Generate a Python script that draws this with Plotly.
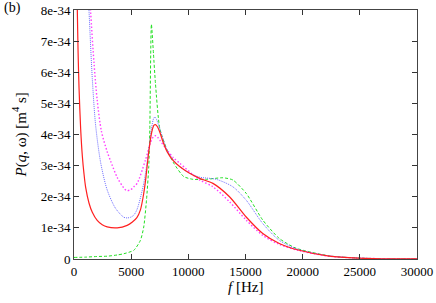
import numpy as np
import plotly.graph_objects as go

# frequencies [Hz] and values [1e-34 m^4 s]
f_red = [250, 290, 360, 440, 580, 730, 870, 1020, 1310, 1600, 2030, 2470, 2900, 3780, 4650, 5080, 5500, 5810, 6050, 6250, 6540, 6800, 7000, 7120, 7300, 7500, 7800, 8140, 8700, 9240, 10000, 10990, 12150, 13600, 15060, 16510, 17960, 19700, 22320, 24940, 27000, 30000]
v_red = [9.3, 8.0, 6.6, 5.5, 4.2, 3.3, 2.75, 2.3, 1.8, 1.5, 1.24, 1.1, 1.03, 1.0, 1.08, 1.18, 1.33, 1.58, 2.0, 2.5, 3.45, 4.08, 4.3, 4.32, 4.25, 4.08, 3.75, 3.45, 3.15, 2.97, 2.78, 2.59, 2.43, 2.0, 1.35, 0.82, 0.5, 0.28, 0.09, 0.025, 0.008, 0.002]

f_blue = [1100, 1310, 1600, 1890, 2330, 2900, 3630, 4360, 4650, 4940, 5230, 5520, 6100, 6540, 6800, 6950, 7060, 7200, 7400, 7800, 8140, 8700, 9240, 10000, 10990, 12440, 13890, 15060, 16510, 17960, 19700, 22320, 24940, 27000, 30000]
v_blue = [9.8, 8.0, 5.8, 4.3, 3.1, 2.22, 1.63, 1.34, 1.32, 1.34, 1.41, 1.6, 2.43, 3.5, 4.25, 4.5, 4.56, 4.5, 4.3, 3.85, 3.5, 3.18, 2.97, 2.78, 2.63, 2.56, 2.32, 1.89, 1.14, 0.6, 0.3, 0.1, 0.028, 0.008, 0.002]

f_mag = [1200, 1450, 1750, 2030, 2400, 2900, 3200, 3780, 4360, 4590, 4940, 5230, 5520, 6250, 6700, 6950, 7120, 7300, 7500, 8140, 8700, 9240, 10990, 12150, 13600, 15060, 16510, 17960, 19700, 22320, 24940, 27000, 30000]
v_mag = [10.5, 8.0, 6.3, 5.1, 4.1, 3.45, 3.15, 2.62, 2.28, 2.2, 2.22, 2.32, 2.43, 3.18, 3.75, 3.93, 3.96, 3.92, 3.82, 3.5, 3.25, 3.08, 2.54, 2.32, 1.84, 1.25, 0.76, 0.47, 0.27, 0.09, 0.03, 0.009, 0.002]

f_green = [0, 1000, 2000, 2900, 3800, 4360, 5230, 5810, 6100, 6340, 6540, 6630, 6770, 6950, 7120, 7500, 8140, 8720, 9590, 10400, 11570, 13020, 13890, 15060, 16510, 17960, 19400, 22320, 24940, 27000, 30000]
v_green = [0.05, 0.06, 0.08, 0.09, 0.13, 0.17, 0.28, 0.6, 1.03, 1.89, 2.97, 4.15, 7.54, 6.6, 5.66, 4.2, 3.5, 3.08, 2.65, 2.56, 2.56, 2.61, 2.54, 2.11, 1.25, 0.66, 0.35, 0.1, 0.03, 0.01, 0.002]

x_ticks = [0, 5000, 10000, 15000, 20000, 25000, 30000]
y_tick_vals = [0, 1, 2, 3, 4, 5, 6, 7, 8]
y_tick_text = ["0", "1e-34", "2e-34", "3e-34", "4e-34", "5e-34", "6e-34", "7e-34", "8e-34"]

S = 1e-34
fig = go.Figure()
fig.add_trace(go.Scatter(x=f_green, y=np.array(v_green) * S, mode="lines",
                         line=dict(color="#22e022", width=1, dash="3px,2px", shape="spline", smoothing=0.6)))
fig.add_trace(go.Scatter(x=f_mag, y=np.array(v_mag) * S, mode="lines",
                         line=dict(color="#ff40ff", width=1.4, dash="1.5px,2px", shape="spline", smoothing=0.8)))
fig.add_trace(go.Scatter(x=f_blue, y=np.array(v_blue) * S, mode="lines",
                         line=dict(color="#6e6eff", width=1, dash="1px,1px", shape="spline", smoothing=0.8)))
fig.add_trace(go.Scatter(x=f_red, y=np.array(v_red) * S, mode="lines",
                         line=dict(color="#ff2020", width=1.2, shape="spline", smoothing=0.8)))

font = dict(family="Liberation Serif, Times New Roman, serif", size=13, color="black")
axis_common = dict(showline=True, linecolor="#444", linewidth=1, mirror="allticks",
                   ticks="inside", ticklen=5, tickcolor="#333", showgrid=False,
                   zeroline=False, tickfont=font)
fig.update_xaxes(range=[0, 30000], tickvals=x_ticks, ticktext=[str(t) for t in x_ticks], **axis_common)
fig.update_yaxes(range=[0, 8 * S], tickvals=[v * S for v in y_tick_vals], ticktext=y_tick_text, **axis_common)

fig.update_layout(
    width=436, height=303,
    margin=dict(l=74, r=19, t=10, b=44, autoexpand=False),
    plot_bgcolor="white", paper_bgcolor="white",
    showlegend=False, font=font,
    annotations=[
        dict(text="(b)", xref="paper", yref="paper", x=-74 / 343 + 2 / 343, y=1 + 2 / 249,
             xanchor="left", yanchor="middle", showarrow=False,
             font=dict(family="Liberation Serif, serif", size=14, color="black")),
        dict(text="<i>P</i>(<i>q</i>, ω) [m<sup>4</sup> s]", xref="paper", yref="paper",
             x=-54 / 343, y=0.5, textangle=-90, xanchor="center", yanchor="middle", showarrow=False,
             font=dict(family="Liberation Serif, serif", size=15, color="black")),
        dict(text="<i>f</i> [Hz]", xref="paper", yref="paper",
             x=0.5, y=-28 / 249, xanchor="center", yanchor="middle", showarrow=False,
             font=dict(family="Liberation Serif, serif", size=15, color="black")),
    ],
)
fig.write_html("out.html", config={"displayModeBar": False},
               post_script="document.body.style.margin='0';")
